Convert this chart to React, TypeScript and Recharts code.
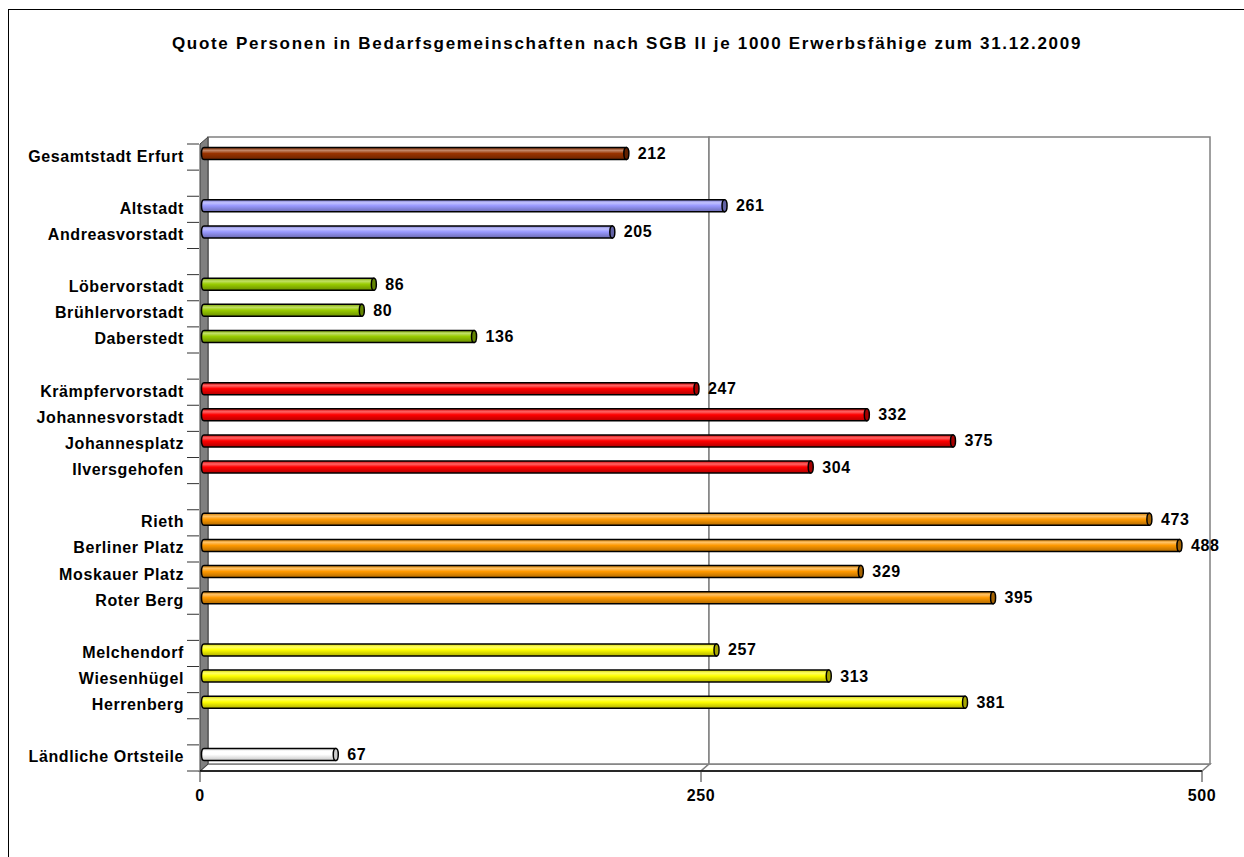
import { BarChart, Bar, XAxis, YAxis, ReferenceArea, LabelList } from 'recharts';

const TITLE = 'Quote Personen in Bedarfsgemeinschaften nach SGB II je 1000 Erwerbsfähige zum 31.12.2009';

// one row per district, empty rows separate the groups
const districts = [
  'Gesamtstadt Erfurt', '',
  'Altstadt', 'Andreasvorstadt', '',
  'Löbervorstadt', 'Brühlervorstadt', 'Daberstedt', '',
  'Krämpfervorstadt', 'Johannesvorstadt', 'Johannesplatz', 'Ilversgehofen', '',
  'Rieth', 'Berliner Platz', 'Moskauer Platz', 'Roter Berg', '',
  'Melchendorf', 'Wiesenhügel', 'Herrenberg', '',
  'Ländliche Ortsteile',
];
const quotes = [
  212, null,
  261, 205, null,
  86, 80, 136, null,
  247, 332, 375, 304, null,
  473, 488, 329, 395, null,
  257, 313, 381, null,
  67,
];
const rowGroup = [
  0, null,
  1, 1, null,
  2, 2, 2, null,
  3, 3, 3, 3, null,
  4, 4, 4, 4, null,
  5, 5, 5, null,
  6,
];
const xTicks = [0, 250, 500];

const GROUP_COLORS = ['#993300', '#9999FF', '#99CC00', '#FF0000', '#FF9900', '#FFFF00', '#FFFFFF'];

const FONT = '"Liberation Sans", Arial, sans-serif';
const W = 1244;
const H = 857;
const PLOT_TOP = 144;
const PLOT_BOTTOM = 771;
const BAND = (PLOT_BOTTOM - PLOT_TOP) / districts.length;
const DX = 8; // 3d depth
const DY = 7;

const chartData = districts.map((name, i) => ({
  key: `r${i}`,
  name,
  value: quotes[i],
  group: rowGroup[i],
}));

function mix(hex: string, target: number, t: number) {
  const n = parseInt(hex.slice(1), 16);
  const ch = [(n >> 16) & 255, (n >> 8) & 255, n & 255].map((c) => Math.round(c + (target - c) * t));
  return `rgb(${ch.join(',')})`;
}

function CategoryTick(props: any) {
  const { x, y, index } = props;
  const last = index === districts.length - 1;
  return (
    <g>
      <line x1={x + 3} x2={x + 15} y1={y - BAND / 2} y2={y - BAND / 2} stroke="#333" />
      {last && <line x1={x + 3} x2={x + 15} y1={y + BAND / 2} y2={y + BAND / 2} stroke="#333" />}
      <text
        x={x}
        y={y - 1}
        textAnchor="end"
        dominantBaseline="central"
        fontFamily={FONT}
        fontWeight="bold"
        fontSize={16}
        letterSpacing={0.6}
        fill="#000"
      >
        {districts[index]}
      </text>
    </g>
  );
}

function Wall(props: any) {
  const { x, y, width, height, leftWall } = props;
  const bx = x + DX;
  const by = y - DY;
  return (
    <g>
      <polygon
        points={`${x},${y + height} ${bx},${by + height} ${bx + width},${by + height} ${x + width},${y + height}`}
        fill="#fff"
        stroke="#808080"
        strokeWidth={1.5}
      />
      <rect x={bx} y={by} width={width} height={height} fill="#fff" stroke="#808080" strokeWidth={1.5} />
      {leftWall && (
        <polygon
          points={`${x},${y} ${bx},${by} ${bx},${by + height} ${x},${y + height}`}
          fill="#808080"
          stroke="#404040"
          strokeWidth={1}
        />
      )}
    </g>
  );
}

function Cylinder(props: any) {
  const { x, y, width, height, payload } = props;
  const g = payload?.group;
  if (g == null || !width) return null;
  const color = GROUP_COLORS[g];
  const top = y - DY / 2;
  const x0 = x + 1.5;
  const x1 = x + width + DX / 2;
  const ry = height / 2;
  const rx = 2.5;
  const body = `M ${x0 + rx} ${top} L ${x1 - rx} ${top} L ${x1 - rx} ${top + height} L ${x0 + rx} ${top + height} A ${rx} ${ry} 0 0 1 ${x0 + rx} ${top} Z`;
  return (
    <g>
      <path d={body} fill={`url(#cyl${g})`} stroke="#000" strokeWidth={1.5} />
      <ellipse cx={x1 - rx} cy={top + ry} rx={rx} ry={ry} fill={g === 6 ? '#ccc' : mix(color, 0, 0.35)} stroke="#000" strokeWidth={1.5} />
    </g>
  );
}

function ValueLabel(props: any) {
  const { x, y, width, height, value } = props;
  if (value == null) return null;
  return (
    <text
      x={x + width + DX / 2 + 9}
      y={y + height / 2 - DY / 2}
      dominantBaseline="central"
      fontFamily={FONT}
      fontWeight="bold"
      fontSize={16}
      letterSpacing={0.6}
      fill="#000"
    >
      {value}
    </text>
  );
}

export default function App() {
  return (
    <div style={{ position: 'fixed', left: 0, top: 0, width: W, height: H, overflow: 'hidden', background: '#fff' }}>
      <div
        style={{
          position: 'absolute',
          left: 8,
          top: 9,
          width: W,
          height: H,
          borderLeft: '1px solid #000',
          borderTop: '1px solid #000',
        }}
      />
      <div
        style={{
          position: 'absolute',
          left: 0,
          top: 36,
          width: 1254,
          textAlign: 'center',
          fontFamily: FONT,
          fontWeight: 'bold',
          fontSize: 17,
          lineHeight: '15px',
          letterSpacing: 1.7,
          color: '#000',
        }}
      >
        {TITLE}
      </div>
      <div style={{ position: 'absolute', left: 0, top: 0 }}>
        <BarChart
          width={W}
          height={H}
          data={chartData}
          layout="vertical"
          margin={{ top: PLOT_TOP, right: 42, bottom: 40, left: 0 }}
          barCategoryGap={0}
        >
          <defs>
            {GROUP_COLORS.map((c, i) => (
              <linearGradient key={c} id={`cyl${i}`} x1="0" y1="0" x2="0" y2="1">
                <stop offset="0%" stopColor={i === 6 ? '#d8d8d8' : mix(c, 0, 0.2)} />
                <stop offset="25%" stopColor={mix(c, 255, 0.4)} />
                <stop offset="50%" stopColor={c} />
                <stop offset="100%" stopColor={i === 6 ? '#c8c8c8' : mix(c, 0, 0.3)} />
              </linearGradient>
            ))}
          </defs>
          <ReferenceArea x1={0} x2={250} shape={(p: any) => <Wall {...p} leftWall />} />
          <ReferenceArea x1={250} x2={500} shape={(p: any) => <Wall {...p} />} />
          <XAxis
            type="number"
            domain={[0, 500]}
            ticks={xTicks}
            interval={0}
            height={46}
            axisLine={{ stroke: '#000', strokeWidth: 1.5 }}
            tickLine={{ stroke: '#333' }}
            tickSize={11}
            tickMargin={8}
            tick={{ fontFamily: FONT, fontWeight: 'bold', fontSize: 16, fill: '#000', letterSpacing: 0.6 }}
          />
          <YAxis
            type="category"
            dataKey="key"
            width={200}
            axisLine={false}
            tickLine={false}
            tickSize={0}
            tickMargin={16}
            interval={0}
            tick={<CategoryTick />}
          />
          <Bar dataKey="value" barSize={12} shape={<Cylinder />} isAnimationActive={false}>
            <LabelList dataKey="value" content={<ValueLabel />} />
          </Bar>
        </BarChart>
      </div>
    </div>
  );
}
